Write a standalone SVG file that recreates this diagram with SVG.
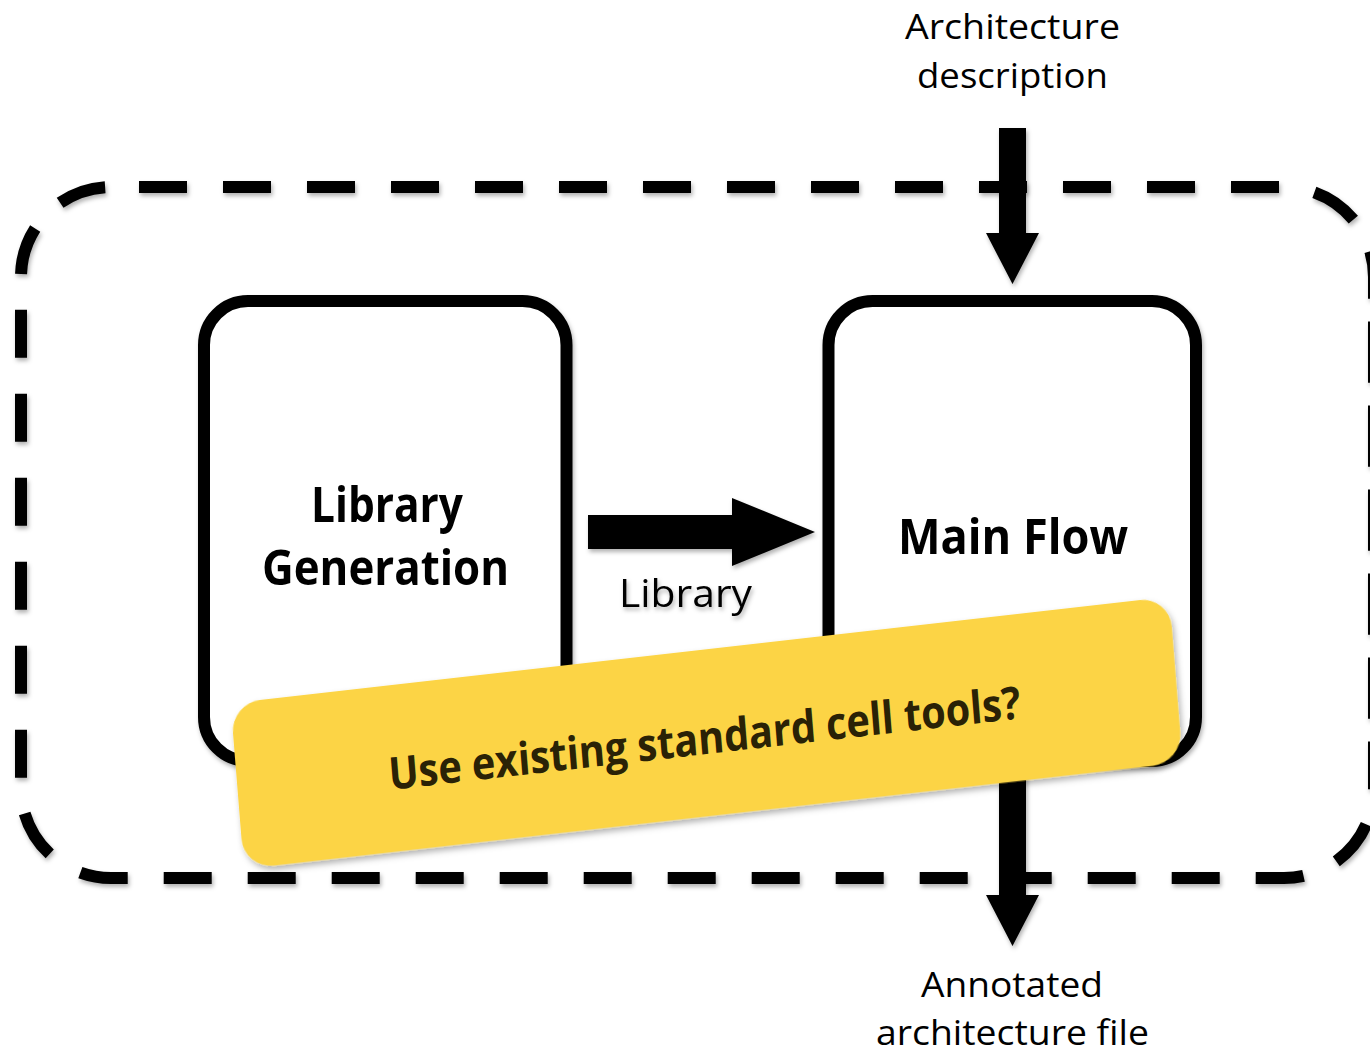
<svg xmlns="http://www.w3.org/2000/svg" width="1370" height="1051" viewBox="0 0 1370 1051">
  <defs>
    <filter id="sh" x="-10%" y="-10%" width="120%" height="130%">
      <feDropShadow dx="1.5" dy="3" stdDeviation="2" flood-color="#000" flood-opacity="0.3"/>
    </filter>
    <filter id="shb" x="-10%" y="-20%" width="120%" height="150%">
      <feDropShadow dx="2" dy="4" stdDeviation="3" flood-color="#000" flood-opacity="0.3"/>
    </filter>
  </defs>
  <style>
    .dash { fill: none; stroke: #000; stroke-width: 12; stroke-dasharray: 48 36; stroke-linecap: butt; }
    .box { fill: #fff; stroke: #000; stroke-width: 12; }
    .arrow { fill: #000; }
    .lbl { font-family: "Open Sans", "Liberation Sans", sans-serif; fill: #000; text-anchor: middle; }
    .title { font-family: "Open Sans", "Liberation Sans", sans-serif; font-weight: bold; fill: #000; text-anchor: middle; }
    .banner { fill: #FCD444; }
    .btext { font-family: "Open Sans", "Liberation Sans", sans-serif; font-weight: bold; fill: #2A2206; text-anchor: middle; }
  </style>

  <g id="boundary" filter="url(#sh)">
    <path class="dash" stroke-dashoffset="56" d="M111,187 H1284 A90,90 0 0 1 1374,277 V788"/>
    <path class="dash" stroke-dashoffset="78" d="M111,187 A90,90 0 0 0 21,277 V788 A90,90 0 0 0 111,878 H1284 A90,90 0 0 0 1374,788 V277"/>
  </g>

  <g id="library-generation" filter="url(#sh)">
    <rect class="box" x="204" y="301" width="362.5" height="460" rx="44" ry="44"/>
    <text class="title" x="387" y="522" font-size="49" textLength="152" lengthAdjust="spacingAndGlyphs">Library</text>
    <text class="title" x="385.5" y="585" font-size="49" textLength="247" lengthAdjust="spacingAndGlyphs">Generation</text>
  </g>

  <g id="main-flow" filter="url(#sh)">
    <rect class="box" x="828.5" y="301" width="367.5" height="460" rx="44" ry="44"/>
    <text class="title" x="1013" y="554" font-size="49" textLength="230" lengthAdjust="spacingAndGlyphs">Main Flow</text>
  </g>

  <g id="arch-desc">
    <text class="lbl" x="1012.5" y="39" font-size="35" textLength="215" lengthAdjust="spacingAndGlyphs">Architecture</text>
    <text class="lbl" x="1012.5" y="88" font-size="35" textLength="191" lengthAdjust="spacingAndGlyphs">description</text>
  </g>

  <g id="annotated-file">
    <text class="lbl" x="1012" y="997" font-size="35" textLength="182" lengthAdjust="spacingAndGlyphs">Annotated</text>
    <text class="lbl" x="1012.5" y="1045" font-size="35" textLength="273" lengthAdjust="spacingAndGlyphs">architecture file</text>
  </g>

  <g id="connectors" filter="url(#sh)">
    <polygon class="arrow" points="999,128 1026,128 1026,233 1039,233 1012.5,284 986,233 999,233"/>
    <polygon class="arrow" points="588,515 732,515 732,498 815,532 732,566 732,549 588,549"/>
    <polygon class="arrow" points="999,767 1026,767 1026,895 1039,895 1012.5,946 986,895 999,895"/>
    <text class="lbl" x="685.5" y="607" font-size="38" textLength="133" lengthAdjust="spacingAndGlyphs" filter="none">Library</text>
  </g>

  <g id="note" transform="matrix(0.9934,-0.1128,0.0801,0.9976,230.6,703.3)">
    <rect class="banner" x="0" y="0" width="945" height="166" rx="30" ry="30" filter="url(#shb)"/>
    <text class="btext" x="470" y="104" font-size="45" textLength="636" lengthAdjust="spacingAndGlyphs">Use existing standard cell tools?</text>
  </g>
</svg>
